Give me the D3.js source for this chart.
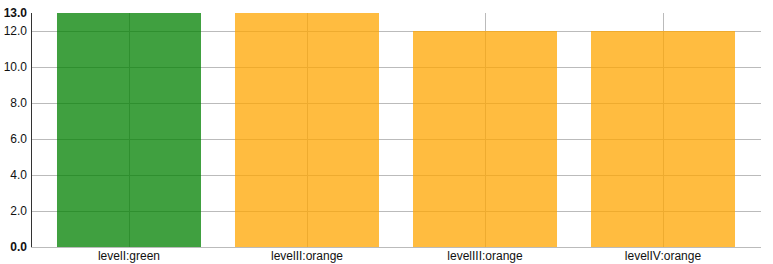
<!DOCTYPE html>
<html>
<head>
<meta charset="utf-8">
<script src="https://cdn.jsdelivr.net/npm/d3@7"></script>
<style>
  body { margin: 0; background: #fff; }
  text { font-family: "Liberation Sans", Arial, sans-serif; font-size: 12px; fill: #111; }
</style>
</head>
<body>
<div id="chart"></div>
<script>
// Chart data
const categories = ["levelI:green", "levelII:orange", "levelIII:orange", "levelIV:orange"];
const values = [13, 13, 12, 12];
const barColors = ["green", "orange", "orange", "orange"];
const yTicks = [0, 2, 4, 6, 8, 10, 12, 13];

const width = 773, height = 264;
const margin = { top: 13, right: 12, bottom: 17, left: 31 };

const svg = d3.select("#chart").append("svg")
    .attr("width", width)
    .attr("height", height);

const x = d3.scaleBand()
    .domain(categories)
    .range([margin.left, width - margin.right])
    .paddingInner(0.191)
    .paddingOuter(0.146);

const y = d3.scaleLinear()
    .domain([0, 13])
    .range([height - margin.bottom, margin.top]);

// Horizontal grid lines
svg.append("g")
    .selectAll("line")
    .data(yTicks.filter(t => t !== 13))
    .enter().append("line")
    .attr("x1", margin.left)
    .attr("x2", width - margin.right)
    .attr("y1", d => Math.round(y(d)) + 0.5)
    .attr("y2", d => Math.round(y(d)) + 0.5)
    .attr("stroke", "#bbb")
    .attr("stroke-width", 1);

// Vertical grid lines at band centres
svg.append("g")
    .selectAll("line")
    .data(categories)
    .enter().append("line")
    .attr("x1", d => Math.round(x(d) + x.bandwidth() / 2) + 0.5)
    .attr("x2", d => Math.round(x(d) + x.bandwidth() / 2) + 0.5)
    .attr("y1", y(13))
    .attr("y2", y(0))
    .attr("stroke", "#bbb")
    .attr("stroke-width", 1);

// Bars
svg.append("g")
    .selectAll("rect")
    .data(values)
    .enter().append("rect")
    .attr("x", (d, i) => x(categories[i]))
    .attr("width", x.bandwidth())
    .attr("y", d => y(d))
    .attr("height", d => y(0) - y(d))
    .attr("fill", (d, i) => barColors[i])
    .attr("fill-opacity", 0.75);

// Y axis line
svg.append("line")
    .attr("x1", margin.left + 0.5)
    .attr("x2", margin.left + 0.5)
    .attr("y1", y(13))
    .attr("y2", y(0))
    .attr("stroke", "#333");

// Y tick labels
svg.append("g")
    .selectAll("text")
    .data(yTicks)
    .enter().append("text")
    .attr("x", margin.left - 4)
    .attr("y", d => y(d))
    .attr("dy", "0.35em")
    .attr("text-anchor", "end")
    .style("font-weight", d => (d === 0 || d === 13) ? "bold" : "normal")
    .text(d => d3.format(".1f")(d));

// X labels
svg.append("g")
    .selectAll("text")
    .data(categories)
    .enter().append("text")
    .attr("x", d => x(d) + x.bandwidth() / 2)
    .attr("y", y(0) + 9)
    .attr("dy", "0.35em")
    .attr("text-anchor", "middle")
    .text(d => d);
</script>
</body>
</html>
